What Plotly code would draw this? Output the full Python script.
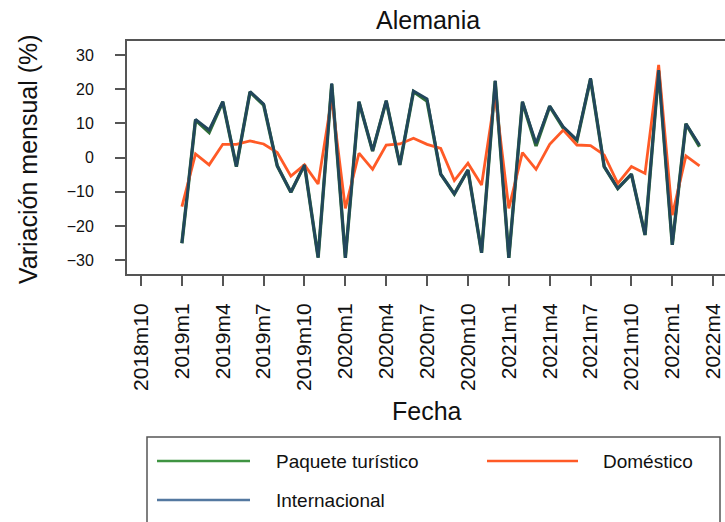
import plotly.graph_objects as go

# ---- data ----
fechas = ["2019m1", "2019m2", "2019m3", "2019m4", "2019m5", "2019m6", "2019m7", "2019m8",
          "2019m9", "2019m10", "2019m11", "2019m12", "2020m1", "2020m2", "2020m3", "2020m4",
          "2020m5", "2020m6", "2020m7", "2020m8", "2020m9", "2020m10", "2020m11", "2020m12",
          "2021m1", "2021m2", "2021m3", "2021m4", "2021m5", "2021m6", "2021m7", "2021m8",
          "2021m9", "2021m10", "2021m11", "2021m12", "2022m1", "2022m2", "2022m3"]

paquete = [-25.0, 11.0, 7.4, 16.3, -2.6, 19.2, 15.4, -2.4, -10.1, -2.1, -29.2, 21.5, -29.3,
           16.3, 1.9, 16.6, -2.1, 19.3, 16.5, -4.8, -10.6, -3.6, -27.8, 22.4, -29.3,
           16.3, 3.4, 15.0, 8.6, 5.0, 23.0, -2.6, -9.0, -4.8, -22.6, 25.4, -25.5, 9.9, 3.2]

domestico = [-14.3, 1.1, -2.1, 3.9, 3.9, 4.9, 4.0, 1.5, -5.4, -2.1, -7.7, 17.4, -14.8,
             1.3, -3.4, 3.7, 4.0, 5.7, 3.9, 2.7, -6.7, -1.6, -8.0, 18.3, -14.8,
             1.5, -3.4, 3.9, 8.1, 3.7, 3.5, 0.8, -7.5, -2.6, -4.6, 27.1, -16.8, 0.5, -2.4]

internacional = [-25.0, 11.2, 8.1, 16.4, -2.6, 19.3, 15.7, -2.4, -10.1, -2.1, -29.2, 21.7, -29.3,
                 16.4, 2.0, 16.7, -2.1, 19.5, 17.2, -4.8, -10.6, -3.6, -27.8, 22.5, -29.3,
                 16.4, 4.2, 15.1, 9.0, 5.2, 23.2, -2.6, -9.0, -4.8, -22.6, 25.6, -25.5, 9.9, 3.7]

ticks_fecha = ["2018m10", "2019m1", "2019m4", "2019m7", "2019m10", "2020m1", "2020m4",
               "2020m7", "2020m10", "2021m1", "2021m4", "2021m7", "2021m10", "2022m1", "2022m4"]
ticks_y = [-30, -20, -10, 0, 10, 20, 30]

series_names = ["Paquete turístico", "Doméstico", "Internacional"]


def idx(label):
    y, m = label.split("m")
    return int(y) * 12 + int(m) - 1


x_vals = [idx(f) for f in fechas]
x_ticks = [idx(t) for t in ticks_fecha]
x0 = idx("2019m1")

# ---- styles ----
FONT = "Liberation Sans, Arial, sans-serif"
W, H = 725, 522
L, R, T, B = 127, 0, 41, 248
plot_w = W - L - R
plot_h = H - T - B

col_green_plot = "#2f6d38"
col_blue_plot = "#22465c"
col_orange = "#ff5a26"
col_green_leg = "#3f9442"
col_blue_leg = "#5478a0"
axis_col = "#555555"

fig = go.Figure()
fig.add_trace(go.Scatter(x=x_vals, y=paquete, mode="lines", name=series_names[0],
                         line=dict(color=col_green_plot, width=3.4), showlegend=False))
fig.add_trace(go.Scatter(x=x_vals, y=domestico, mode="lines", name=series_names[1],
                         line=dict(color=col_orange, width=2.8), showlegend=False))
fig.add_trace(go.Scatter(x=x_vals, y=internacional, mode="lines", name=series_names[2],
                         line=dict(color=col_blue_plot, width=2.8), showlegend=False))


def px2x(px):
    return (px - L) / plot_w


def py2y(py):
    return (H - B - py) / plot_h


shapes = []
annotations = []

# legend box (manual, like base R legend)
shapes.append(dict(type="rect", xref="paper", yref="paper",
                   x0=px2x(147), x1=px2x(720), y0=py2y(540), y1=py2y(437),
                   line=dict(color=axis_col, width=1.5), fillcolor="rgba(0,0,0,0)"))
legend_items = [
    (series_names[0], col_green_leg, 157, 250, 274, 461),
    (series_names[1], col_orange, 487, 578, 601, 461),
    (series_names[2], col_blue_leg, 157, 250, 274, 500),
]
for name, col, lx0, lx1, tx, ly in legend_items:
    shapes.append(dict(type="line", xref="paper", yref="paper",
                       x0=px2x(lx0), x1=px2x(lx1), y0=py2y(ly), y1=py2y(ly),
                       line=dict(color=col, width=2.5)))
    annotations.append(dict(text=name, xref="paper", yref="paper", x=px2x(tx), y=py2y(ly),
                            xanchor="left", yanchor="middle", showarrow=False,
                            font=dict(family=FONT, size=19, color="#111111")))

# titles
annotations.append(dict(text="Alemania", xref="paper", yref="paper", x=px2x(428), y=py2y(20),
                        xanchor="center", yanchor="middle", showarrow=False,
                        font=dict(family=FONT, size=25, color="#111111")))
annotations.append(dict(text="Fecha", xref="paper", yref="paper", x=px2x(427), y=py2y(411),
                        xanchor="center", yanchor="middle", showarrow=False,
                        font=dict(family=FONT, size=25, color="#111111")))
annotations.append(dict(text="Variación mensual (%)", xref="paper", yref="paper",
                        x=px2x(28), y=py2y(159), textangle=-90,
                        xanchor="center", yanchor="middle", showarrow=False,
                        font=dict(family=FONT, size=25, color="#111111")))

fig.update_layout(
    width=W, height=H, autosize=False,
    margin=dict(l=L, r=R, t=T, b=B, pad=0),
    plot_bgcolor="white", paper_bgcolor="white",
    shapes=shapes, annotations=annotations,
    showlegend=False,
)
fig.update_xaxes(
    range=[x0 - 4.03, x0 + 39.87], tickmode="array", tickvals=x_ticks, ticktext=ticks_fecha,
    tickangle=-90, ticks="outside", ticklen=10, tickwidth=1.5, tickcolor=axis_col,
    showline=True, linecolor=axis_col, linewidth=2, mirror=True,
    showgrid=False, zeroline=False, ticklabelstandoff=9,
    tickfont=dict(family=FONT, size=21, color="#111111"),
)
fig.update_yaxes(
    range=[-34.0, 34.1], tickmode="array", tickvals=ticks_y,
    ticks="outside", ticklen=10, tickwidth=1.5, tickcolor=axis_col,
    showline=True, linecolor=axis_col, linewidth=2, mirror=False,
    showgrid=False, zeroline=False, ticklabelstandoff=18,
    tickfont=dict(family=FONT, size=16, color="#111111"),
)

fig.write_html("out.html", config={"displayModeBar": False},
               post_script="document.body.style.margin='0';")
